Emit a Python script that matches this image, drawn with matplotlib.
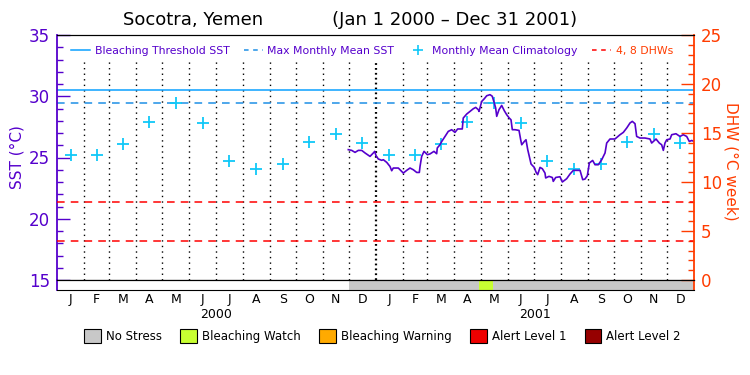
import matplotlib

matplotlib.use("Agg")
import matplotlib.pyplot as plt  # noqa: E402
import pandas as pd  # noqa: E402
from matplotlib.lines import Line2D  # noqa: E402
from matplotlib.patches import Patch  # noqa: E402
from matplotlib.ticker import MultipleLocator  # noqa: E402

# ---- data ----
START = pd.Timestamp("2000-01-01")
END = pd.Timestamp("2002-01-01")

# monthly mean climatology (deg C), Jan..Dec, same for both years
clim_sst = [25.2, 25.2, 26.1, 27.9, 29.45, 27.8, 24.7, 24.05, 24.45, 26.25, 26.9, 26.2]
mmm_sst = 29.45
threshold_sst = 30.5
dhw_levels = [4, 8]

# satellite SST: days since Jan 1 2000, deg C
sst_day = [
    334.3, 338.2, 342.0, 345.8, 349.7, 353.5, 359.2, 363.0, 364.6, 366.1,
    368.7, 372.6, 374.5, 378.4, 382.1, 384.1, 385.9, 391.7, 397.4, 401.3,
    405.1, 408.9, 412.8, 415.8, 416.6, 418.5, 421.2, 425.0, 428.0, 432.6,
    435.7, 436.4, 439.5, 441.5, 445.3, 449.0, 452.9, 456.7, 459.8, 465.1,
    466.2, 470.2, 473.9, 477.7, 480.5, 483.5, 484.3, 487.4, 490.4, 493.1,
    496.9, 499.5, 501.8, 503.4, 504.6, 507.2, 510.3, 513.3, 516.1, 519.0,
    521.0, 522.5, 525.6, 530.2, 532.1, 533.3, 536.3, 538.2, 540.2, 542.0,
    544.0, 547.7, 549.7, 551.6, 554.3, 556.9, 560.0, 560.8, 564.6, 568.4,
    569.5, 572.3, 577.2, 579.9, 584.9, 588.7, 592.5, 600.2, 603.3, 605.9,
    608.6, 610.9, 614.7, 617.4, 621.2, 625.1, 628.9, 630.8, 634.6, 640.3,
    646.1, 649.9, 653.8, 657.6, 660.2, 663.3, 665.2, 669.0, 674.7, 680.5,
    682.4, 687.4, 691.2, 693.9, 695.8, 697.7, 699.7, 703.5, 705.4, 710.3,
    714.9, 718.7, 722.6, 725.6, 728.4, 731.0,
]
sst_val = [
    25.64, 25.58, 25.42, 25.58, 25.58, 25.37, 25.09, 25.37, 25.50, 25.15,
    24.88, 24.77, 24.82, 24.60, 24.27, 23.92, 24.14, 24.14, 23.73, 23.95,
    24.14, 24.00, 23.78, 23.78, 24.27, 25.09, 25.50, 25.23, 25.29, 25.50,
    25.31, 25.78, 26.04, 26.31, 26.72, 27.13, 27.27, 27.05, 27.33, 27.33,
    28.22, 28.55, 28.76, 28.98, 29.09, 28.90, 28.76, 29.58, 29.80, 30.04,
    30.13, 30.00, 29.45, 29.04, 28.36, 28.90, 29.25, 28.82, 28.49, 28.22,
    28.08, 27.27, 27.27, 27.21, 26.45, 26.04, 26.31, 26.45, 25.64, 25.09,
    24.47, 24.19, 23.81, 23.60, 24.19, 24.09, 23.73, 23.33, 23.46, 23.37,
    23.05, 23.37, 23.43, 23.00, 23.27, 23.65, 23.95, 23.95, 23.19, 23.24,
    23.51, 24.55, 24.76, 24.41, 24.41, 24.82, 25.37, 26.18, 26.51, 26.51,
    26.86, 27.05, 27.41, 27.82, 27.95, 27.76, 26.72, 26.59, 26.59, 26.51,
    26.18, 26.51, 26.18, 26.04, 25.58, 26.18, 26.45, 26.51, 26.86, 26.94,
    26.72, 26.86, 26.72, 26.31, 26.39, 26.31,
]

# bleaching alert status bar
status_start = ["2000-12-01", "2001-04-29", "2001-05-15"]
status_end = ["2001-04-29", "2001-05-15", "2002-01-01"]
status_level = [0, 1, 0]

status_names = ["No Stress", "Bleaching Watch", "Bleaching Warning", "Alert Level 1", "Alert Level 2"]
status_colors = ["#c8c8c8", "#c8ff32", "#ffaa00", "#ee0000", "#960000"]

month_letters = list("JFMAMJJASOND")
years = ["2000", "2001"]

# ---- styling ----
PURPLE = "#5500cc"
ORANGE = "#ff3c00"
CYAN = "#10c8f8"
BLUE = "#0aa0ff"
BLUE_DASH = "#1e90e6"
RED = "#ff0000"
W, H = 750, 375


def day_of(ts):
    return (pd.Timestamp(ts) - START).days


month_starts = pd.date_range(START, END, freq="MS")
month_edges = [day_of(d) for d in month_starts]
month_mid = [(a + b) / 2 for a, b in zip(month_edges[:-1], month_edges[1:])]
clim_all = clim_sst * len(years)
total_days = day_of(END)

fig = plt.figure(figsize=(W / 100, H / 100), dpi=100)
ax = fig.add_axes([57 / W, 1 - 280 / H, 637 / W, 245 / H])
ax_bar = fig.add_axes([57 / W, 1 - 290 / H, 637 / W, 10 / H])
ax2 = ax.twinx()

ax.set_xlim(0, total_days)
ax.set_ylim(15, 35)
ax2.set_ylim(0, 25)

# month dividers, year boundary drawn denser
for i, edge in enumerate(month_edges[1:-1], start=1):
    thick = i % 12 == 0
    ax.vlines(edge, 15, 33, colors="black",
              linestyles=(0, (0.8, 1.4)) if thick else (0, (1, 3)),
              linewidth=1.6 if thick else 1.0)

ax.axhline(threshold_sst, color=BLUE, lw=1.1)
ax.axhline(mmm_sst, color=BLUE_DASH, lw=1.1, dashes=(5, 4))
for lvl in dhw_levels:
    ax2.axhline(lvl, color=RED, lw=1.1, dashes=(5, 4))

ax.plot(month_mid, clim_all, ls="none", marker="+", ms=9, mew=1.3, color=CYAN)
ax.plot(sst_day, sst_val, color=PURPLE, lw=1.2, zorder=5)

# axes styling
for name in ("top", "bottom"):
    ax.spines[name].set_color("black")
ax.spines["left"].set_color(PURPLE)
ax.spines["left"].set_linewidth(1.3)
ax2.spines["right"].set_color(ORANGE)
ax2.spines["right"].set_linewidth(1.3)
ax2.spines["left"].set_visible(False)
ax.spines["right"].set_visible(False)
ax.set_xticks([])

ax.yaxis.set_major_locator(MultipleLocator(5))
ax.yaxis.set_minor_locator(MultipleLocator(1))
ax.tick_params(axis="y", which="major", direction="in", length=9.5, width=1, color=PURPLE,
               labelcolor=PURPLE, labelsize=12, pad=5)
ax.tick_params(axis="y", which="minor", direction="in", length=4.5, width=1, color=PURPLE)
ax2.yaxis.set_major_locator(MultipleLocator(5))
ax2.yaxis.set_minor_locator(MultipleLocator(1))
ax2.tick_params(axis="y", which="major", direction="in", length=9.5, width=1, color=ORANGE,
                labelcolor=ORANGE, labelsize=12, pad=5)
ax2.tick_params(axis="y", which="minor", direction="in", length=4.5, width=1, color=ORANGE)

fig.text(17 / W, 1 - 157 / H, "SST (°C)", rotation=90, ha="center", va="center",
         color=PURPLE, fontsize=11)
fig.text(731 / W, 1 - 161 / H, "DHW (°C week)", rotation=270, ha="center", va="center",
         color=ORANGE, fontsize=11)
fig.text(350 / W, 1 - 20 / H, "Socotra, Yemen            (Jan 1 2000 – Dec 31 2001)",
         ha="center", va="center", fontsize=13)

# legend inside plot
handles = [
    Line2D([], [], color=BLUE, lw=1.1),
    Line2D([], [], color=BLUE_DASH, lw=1.1, dashes=(3, 3)),
    Line2D([], [], color=CYAN, ls="none", marker="+", ms=7, mew=1.2),
    Line2D([], [], color=RED, lw=1.1, dashes=(3, 3)),
]
labels = ["Bleaching Threshold SST", "Max Monthly Mean SST", "Monthly Mean Climatology", "4, 8 DHWs"]
leg = ax.legend(handles, labels, loc="upper left", bbox_to_anchor=(0.01, 0.985), ncol=4,
                frameon=False, fontsize=7.8, handlelength=1.8, handletextpad=0.4,
                columnspacing=1.3, borderaxespad=0.3)
for txt, col in zip(leg.get_texts(), [PURPLE, PURPLE, PURPLE, ORANGE]):
    txt.set_color(col)

# status bar
ax_bar.set_xlim(0, total_days)
ax_bar.set_ylim(0, 1)
for s, e, lvl in zip(status_start, status_end, status_level):
    ax_bar.axvspan(day_of(s), day_of(e), color=status_colors[lvl], lw=0)
for name in ("top", "bottom"):
    ax_bar.spines[name].set_color("black")
ax_bar.spines["left"].set_color(PURPLE)
ax_bar.spines["left"].set_linewidth(1.3)
ax_bar.spines["right"].set_color(ORANGE)
ax_bar.spines["right"].set_linewidth(1.3)
ax_bar.set_yticks([])
ax_bar.set_xticks(month_mid)
ax_bar.set_xticklabels(month_letters * len(years))
ax_bar.tick_params(axis="x", length=0, pad=2.5, labelsize=9)
for k, yr in enumerate(years):
    mid = (month_edges[12 * k] + month_edges[12 * (k + 1)]) / 2
    ax_bar.annotate(yr, xy=(mid, 0), xycoords=("data", "axes fraction"), xytext=(0, -18),
                    textcoords="offset points", ha="center", va="center", fontsize=9)

status_handles = [Patch(facecolor=c, edgecolor="black", lw=0.8) for c in status_colors]
fig.legend(status_handles, status_names, loc="center", bbox_to_anchor=(0.51, 1 - 336 / H),
           ncol=5, frameon=False, fontsize=8.5, handlelength=1.4, handleheight=1.4,
           handletextpad=0.4, columnspacing=1.6)

fig.savefig("out.png", dpi=100)
plt.close(fig)
